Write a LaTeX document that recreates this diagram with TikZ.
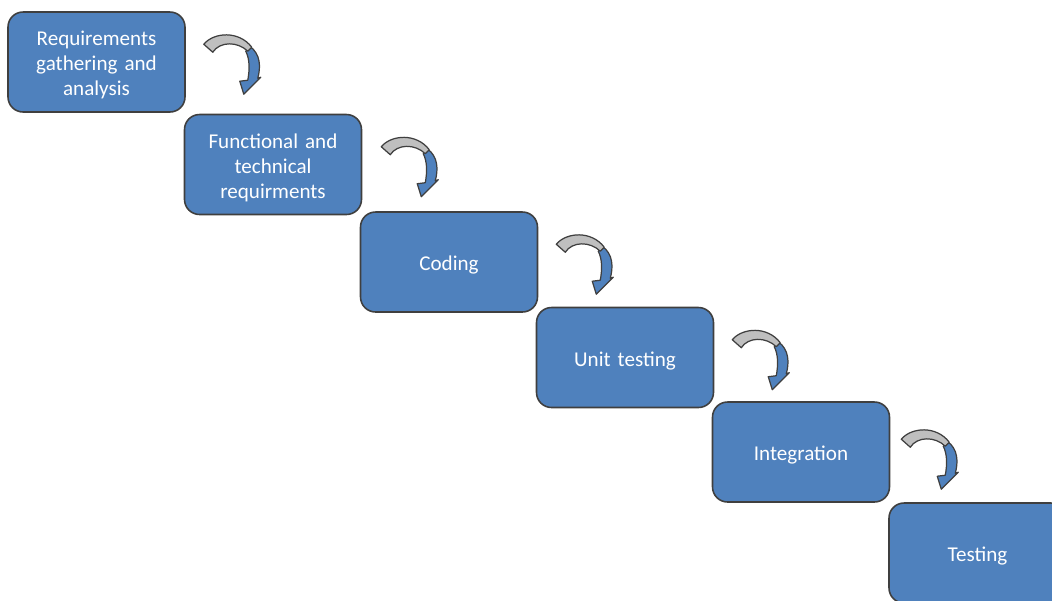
\documentclass[tikz,border=0pt]{standalone}
\usepackage{fontspec}
\setmainfont{Carlito}
\usetikzlibrary{calc}
\definecolor{stepblue}{HTML}{4F81BD}
\definecolor{ribbongray}{HTML}{BFBFBF}
\definecolor{edgegray}{HTML}{3F3F3F}
\tikzset{
  stage/.style={draw=edgegray, line width=0.9pt, fill=stepblue, rounded corners=0.3cm,
    minimum width=3.54cm, minimum height=2cm, text width=3.2cm, align=center,
    text=white, font=\fontsize{12}{14.2}\selectfont, inner sep=0pt, text height=12pt},
  ribbon/.style={draw=edgegray, line width=0.7pt, line join=round}
}
% curved step arrow, hung off the north east corner of a box
\newcommand{\turnarrow}[2]{%
  \begin{scope}[shift={($(#1.north east)+(#2)$)}]
    \filldraw[ribbon, fill=stepblue] (46,12) .. controls (57,20) and (57,33) .. (54,44) -- (57,43) -- (40,60) -- (36,47) -- (44,46) .. controls (46,35) and (46,25) .. (42,17) -- cycle;
    \filldraw[ribbon, fill=ribbongray] (0,10) .. controls (10,-2) and (35,-4) .. (48,13) -- (44,17) .. controls (34,7) and (16,7) .. (9,18) -- cycle;
  \end{scope}}
\begin{document}
\begin{tikzpicture}[x=0.02cm,y=-0.02cm]
  \useasboundingbox (0,0) rectangle (1052,600);
  \clip (0,0) rectangle (1052,600);
  \node[stage] (req) at (96.5,62) {Requirements\\gathering and\\analysis};
  \node[stage] (func) at (273,164.5) {Functional and\\technical\\requirments};
  \node[stage] (cod) at (449,262) {Coding};
  \node[stage] (unit) at (625,357.5) {Unit testing};
  \node[stage] (integ) at (801,452) {Integration};
  \node[stage] (test) at (977.5,553) {Testing};
  \foreach \n/\off in {req/{18,23}, func/{19,23}, cod/{18,23}, unit/{18,23}, integ/{11,28}}
    \turnarrow{\n}{\off};
\end{tikzpicture}
\end{document}
